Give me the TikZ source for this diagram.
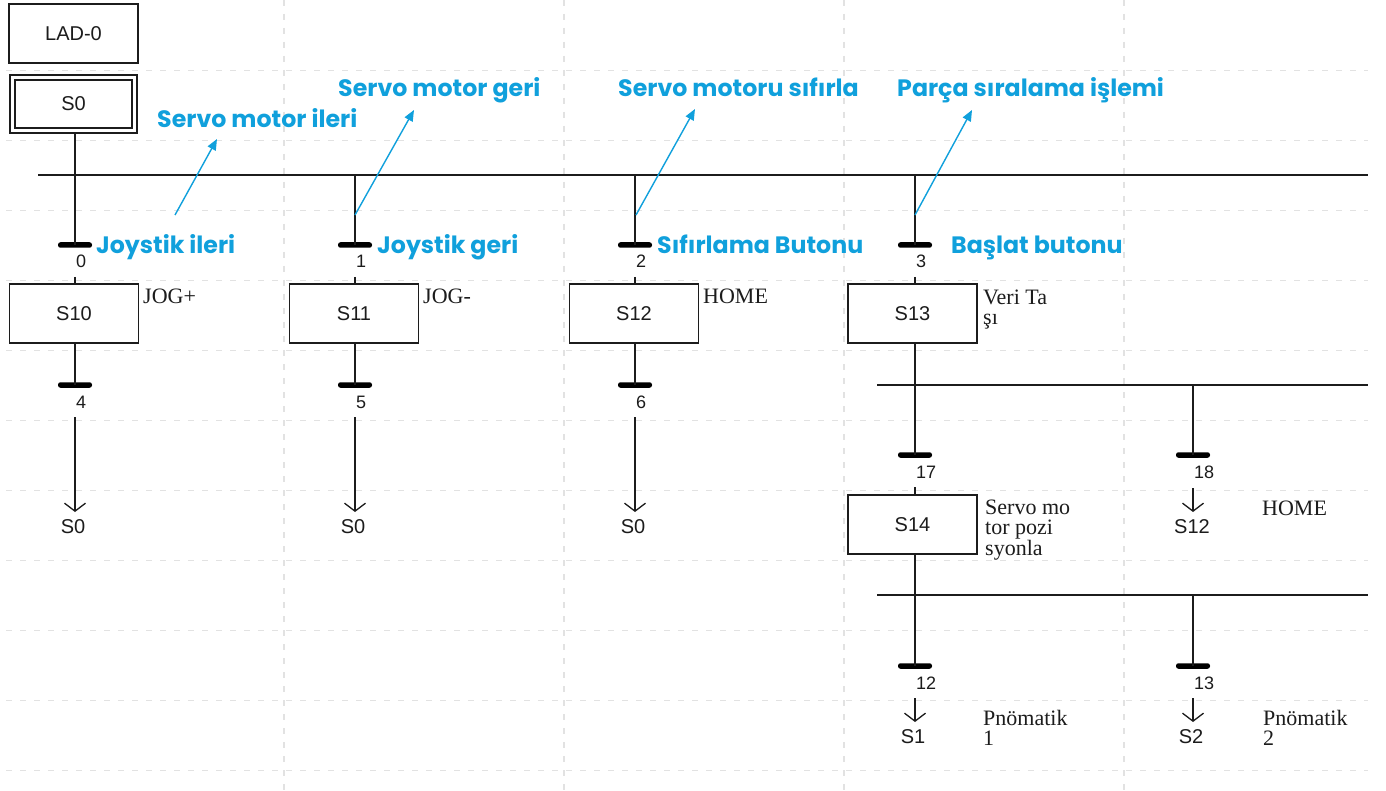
\documentclass[tikz,border=0pt]{standalone}
\usepackage{fontspec}
\setmainfont{Liberation Sans}
\newfontfamily\serifc{Liberation Serif}
\newfontfamily\bluef{Poppins}
\usetikzlibrary{arrows.meta}
\definecolor{annot}{RGB}{16,160,220}
\definecolor{ink}{RGB}{28,28,28}
\definecolor{gridc}{RGB}{226,226,226}
\tikzset{
  gridline/.style={draw=gridc, line width=1.3pt, dash pattern=on 6pt off 8pt},
  wire/.style={draw=ink, line width=1.8pt},
  stepbox/.style={draw=ink, line width=1.8pt, minimum width=129pt, minimum height=59pt, inner sep=0pt, text=ink, font=\fontsize{20}{20}\selectfont},
  initbox/.style={stepbox, double=white, double distance=2.6pt, line width=1.9pt, minimum width=122pt, minimum height=53pt},
  trbar/.style={fill=black, rounded corners=2.4pt, minimum width=34pt, minimum height=5.5pt, inner sep=0pt},
  num/.style={anchor=base west, inner sep=0pt, text=ink, font=\fontsize{18}{18}\selectfont},
  jumplab/.style={anchor=base, inner sep=0pt, text=ink, font=\fontsize{20}{20}\selectfont},
  jumparrow/.style={draw=ink, line width=1.3pt, -{Straight Barb[length=8pt,width=21pt,line width=1.3pt]}},
  comment/.style={anchor=base west, inner sep=0pt, align=left, text=ink, font=\serifc\fontsize{22}{20.5}\selectfont},
  note/.style={anchor=base west, inner sep=0pt, text=annot, font=\bluef\bfseries\fontsize{23.7}{24}\selectfont},
  notearrow/.style={draw=annot, line width=1.4pt, -{Triangle[length=11pt,width=9pt]}}
}
\begin{document}
\begin{tikzpicture}[x=1pt,y=-1pt]
\useasboundingbox (0,0) rectangle (1386,791);
\fill[white] (0,0) rectangle (1386,791);
% grid
\foreach \gy in {70.7,140.7,210.7,280.7,350.7,420.7,490.7,560.7,630.7,700.7,770.7}
  \draw[gridline] (6,\gy) -- (1368,\gy);
\foreach \gx in {284,564,844,1124}
  \draw[gridline] (\gx,0) -- (\gx,791);

% header boxes
\node[stepbox] (lad) at (73.5,33.5) {LAD-0};
\node[initbox] (s0) at (73.5,104) {S0};

% main divergence line
\coordinate (divL) at (38,175);
\coordinate (divR) at (1368,175);
\coordinate (s0b) at (75,134);
\coordinate (j0) at (75,175);
\draw[wire] (divL) -- (divR);
\draw[wire] (s0b) -- (j0);

% three simple branches
\foreach \cx/\i/\m/\st/\cm in {75/0/4/S10/JOG+,355/1/5/S11/JOG-,635/2/6/S12/HOME}{
  \coordinate (top\i) at (\cx,175);
  \node[trbar] (ta\i) at (\cx,245) {};
  \node[num] (na\i) at (\cx+1,268) {\i};
  \coordinate (gap\i) at (\cx,277);
  \node[stepbox] (st\i) at (\cx-1,313.5) {\st};
  \node[comment] (cm\i) at (\cx+68,304) {\cm};
  \coordinate (bot\i) at (\cx,343);
  \node[trbar] (tb\i) at (\cx,385) {};
  \node[num] (nb\i) at (\cx+1,408) {\m};
  \coordinate (ar\i) at (\cx,417);
  \coordinate (tip\i) at (\cx,512);
  \node[jumplab] (jl\i) at (\cx-2,533) {S0};
  \draw[wire] (top\i) -- (ta\i.center);
  \draw[wire] (gap\i) -- (gap\i |- st\i.north);
  \draw[wire] (bot\i) -- (tb\i.center);
  \draw[jumparrow] (ar\i) -- (tip\i);
}

% fourth branch
\coordinate (top3) at (915,175);
\node[trbar] (ta3) at (915,245) {};
\node[num] (na3) at (916,268) {3};
\coordinate (gap3) at (915,277);
\node[stepbox] (st3) at (912.5,313.5) {S13};
\node[comment] (cm3) at (983,324.5) {Veri Ta\\şı};
\draw[wire] (top3) -- (ta3.center);
\draw[wire] (gap3) -- (gap3 |- st3.north);

% second divergence
\coordinate (d2L) at (877,385);
\coordinate (d2R) at (1368,385);
\coordinate (d2a) at (1193,385);
\draw[wire] (d2L) -- (d2R);
\coordinate (s13b) at (915,343);
\node[trbar] (t17) at (915,455) {};
\node[trbar] (t18) at (1193,455) {};
\draw[wire] (s13b) -- (t17.center);
\draw[wire] (d2a) -- (t18.center);
\node[num] (n17) at (916,478) {17};
\node[num] (n18) at (1194,478) {18};
\coordinate (gap17) at (915,487);
\node[stepbox] (st14) at (912.5,524.5) {S14};
\draw[wire] (gap17) -- (gap17 |- st14.north);
\node[comment] (cm14) at (985,555) {Servo mo\\tor pozi\\syonla};
\coordinate (ar18) at (1193,488);
\coordinate (tip18) at (1193,512);
\draw[jumparrow] (ar18) -- (tip18);
\node[jumplab] (jl18) at (1192,533) {S12};
\node[comment] (home2) at (1262,515) {HOME};

% third divergence
\coordinate (d3L) at (877,595);
\coordinate (d3R) at (1368,595);
\coordinate (d3a) at (1193,595);
\draw[wire] (d3L) -- (d3R);
\coordinate (s14b) at (915,554);
\node[trbar] (t12) at (915,666) {};
\node[trbar] (t13) at (1193,666) {};
\draw[wire] (s14b) -- (t12.center);
\draw[wire] (d3a) -- (t13.center);
\node[num] (n12) at (916,689) {12};
\node[num] (n13) at (1194,689) {13};
\coordinate (ar12) at (915,698);
\coordinate (tip12) at (915,722);
\coordinate (ar13) at (1193,698);
\coordinate (tip13) at (1193,722);
\draw[jumparrow] (ar12) -- (tip12);
\draw[jumparrow] (ar13) -- (tip13);
\node[jumplab] (jl12) at (913,743) {S1};
\node[jumplab] (jl13) at (1191,743) {S2};
\node[comment] (cm12) at (983,745.5) {Pnömatik\\1};
\node[comment] (cm13) at (1263,745.5) {Pnömatik\\2};

% blue annotations
\node[note] (n1) at (157,128) {Servo motor ileri};
\node[note] (n2) at (338,97) {Servo motor geri};
\node[note] (n3) at (618,97) {Servo motoru sıfırla};
\node[note] (n4) at (897,97) {Parça sıralama işlemi};
\node[note] (c1) at (96,254) {Joystik ileri};
\node[note] (c2) at (377,254) {Joystik geri};
\node[note] (c3) at (657,254) {Sıfırlama Butonu};
\node[note] (c4) at (951,254) {Başlat butonu};

\coordinate (p1) at (175,215); \coordinate (q1) at (217,139);
\coordinate (p2) at (355,215); \coordinate (q2) at (414,110);
\coordinate (p3) at (636,215); \coordinate (q3) at (695,109);
\coordinate (p4) at (915,215); \coordinate (q4) at (972,110);
\draw[notearrow] (p1) -- (q1);
\draw[notearrow] (p2) -- (q2);
\draw[notearrow] (p3) -- (q3);
\draw[notearrow] (p4) -- (q4);
\end{tikzpicture}
\end{document}
